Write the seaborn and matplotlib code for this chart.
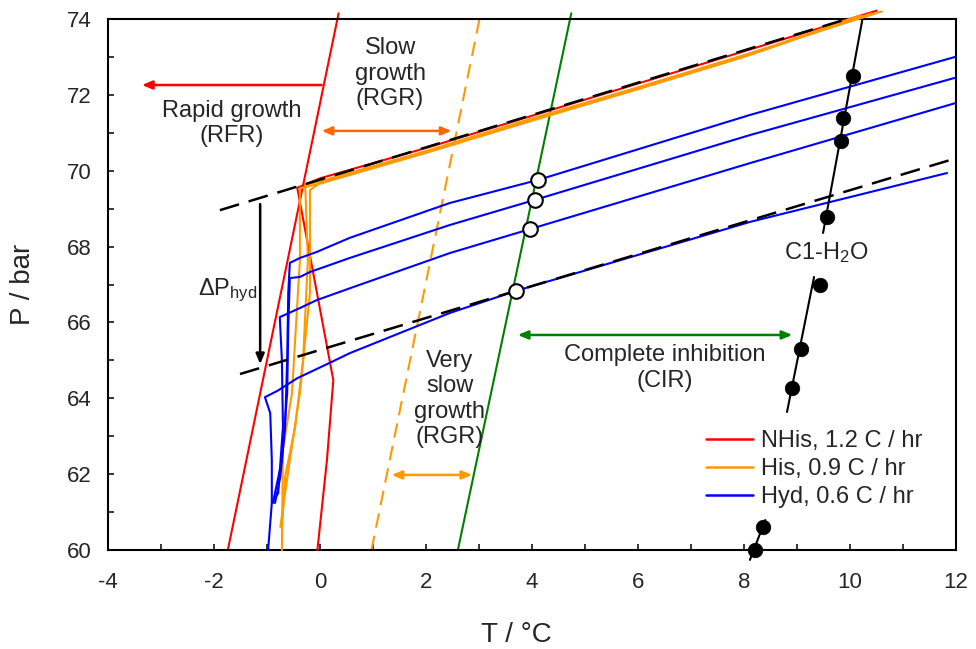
import matplotlib.pyplot as plt
import matplotlib.ticker as mticker
import pandas as pd
import seaborn as sns

# ---- traces (T in degC, P in bar) ----
nhis_T = [10.5, 8.0, 6.0, 4.0, 2.0, 0.0, -0.43, 0.25, 0.13, -0.05]
nhis_P = [74.22, 73.15, 72.3, 71.45, 70.6, 69.8, 69.55, 64.48, 62.37, 60.0]

his1_T = [10.6, 8.0, 6.0, 4.0, 2.0, 0.0, -0.28, -0.23, -0.32, -0.47, -0.66, -0.72]
his1_P = [74.2, 73.05, 72.2, 71.38, 70.52, 69.72, 69.62, 67.65, 65.01, 63.24, 61.93, 60.53]
his2_T = [10.4, 8.0, 6.0, 4.0, 2.0, 0.0, -0.38, -0.38, -0.47, -0.53, -0.70, -0.72]
his2_P = [74.15, 73.0, 72.15, 71.32, 70.47, 69.66, 69.54, 67.65, 65.54, 64.14, 62.64, 60.0]
his3_T = [10.2, 8.0, 6.0, 4.0, 2.0, 0.0, -0.19, -0.19, -0.38, -0.57, -0.75]
his3_P = [74.1, 73.02, 72.17, 71.34, 70.5, 69.68, 69.49, 66.78, 64.14, 62.37, 60.61]

hyd1_T = [11.98, 8.11, 4.12, 2.45, 0.56, -0.06, -0.38, -0.57, -0.6, -0.62, -0.66, -0.75, -0.85]
hyd1_P = [73.0, 71.47, 69.76, 69.15, 68.23, 67.86, 67.7, 67.57, 66.78, 65.01, 63.24, 61.93, 61.24]
hyd2_T = [11.98, 8.11, 4.05, 2.45, 0.56, -0.19, -0.38, -0.57, -0.6, -0.62, -0.72, -0.89]
hyd2_P = [72.45, 70.94, 69.23, 68.57, 67.7, 67.33, 67.2, 67.17, 65.88, 64.14, 62.37, 61.24]
hyd3_T = [11.98, 8.11, 3.96, 2.45, 0.56, -0.06, -0.38, -0.76, -0.72, -0.7, -0.79, -0.91]
hyd3_P = [71.78, 70.2, 68.46, 67.83, 66.9, 66.59, 66.38, 66.14, 65.01, 63.24, 61.5, 61.24]
hyd4_T = [11.83, 8.11, 3.69, 2.45, 0.56, 0.25, -0.43, -0.8, -1.04, -0.94, -0.91, -0.91, -0.98]
hyd4_P = [69.94, 68.65, 66.83, 66.25, 65.19, 64.98, 64.53, 64.2, 64.03, 63.61, 62.37, 61.24, 60.0]

series_names = ["NHis, 1.2 C / hr", "His, 0.9 C / hr", "Hyd, 0.6 C / hr"]
series_colors = ["#FF0000", "#FF9900", "#0000FF"]

# boundary lines (T at P = 60 and at top)
red_bound_T = [-1.74, 0.35]
red_bound_P = [60.0, 74.15]
orange_bound_T = [0.97, 3.03]
orange_bound_P = [60.0, 74.15]
green_bound_T = [2.6, 4.74]
green_bound_P = [60.0, 74.15]

# black dashed isochores
upper_iso_T = [-1.89, 9.87]
upper_iso_P = [68.96, 73.97]
lower_iso_T = [-1.51, 11.93]
lower_iso_P = [64.64, 70.3]

# onset points on the green boundary
onset_T = [4.12, 4.05, 3.96, 3.69]
onset_P = [69.76, 69.23, 68.46, 66.83]

# C1-H2O equilibrium points and curve pieces (gaps for label / legend)
c1_T = [8.21, 8.36, 8.91, 9.08, 9.43, 9.57, 9.83, 9.87, 10.06]
c1_P = [60.0, 60.61, 64.27, 65.3, 66.99, 68.78, 70.78, 71.39, 72.5]
c1_seg_T = [[8.11, 8.4], [8.81, 9.32], [9.49, 10.23]]
c1_seg_P = [[59.74, 60.79], [63.64, 67.2], [68.36, 73.97]]

# ---- build long table for seaborn ----
runs = [
    (series_names[0], "n1", nhis_T, nhis_P),
    (series_names[1], "h1", his1_T, his1_P),
    (series_names[1], "h2", his2_T, his2_P),
    (series_names[1], "h3", his3_T, his3_P),
    (series_names[2], "y1", hyd1_T, hyd1_P),
    (series_names[2], "y2", hyd2_T, hyd2_P),
    (series_names[2], "y3", hyd3_T, hyd3_P),
    (series_names[2], "y4", hyd4_T, hyd4_P),
]
rows = []
for name, run, ts, ps in runs:
    for i, (t, p) in enumerate(zip(ts, ps)):
        rows.append({"series": name, "run": run, "step": i, "T": t, "P": p})
df = pd.DataFrame(rows)

sns.set_style("white")
plt.rcParams["font.family"] = ["Liberation Sans", "DejaVu Sans"]
plt.rcParams["mathtext.fontset"] = "custom"
plt.rcParams["mathtext.rm"] = "Liberation Sans"
plt.rcParams["mathtext.it"] = "Liberation Sans:italic"

fig = plt.figure(figsize=(9.76, 6.49), dpi=100)
ax = fig.add_axes([0.1107, 0.1525, 0.8689, 0.8182])

# guide lines
ax.plot(red_bound_T, red_bound_P, color="#FF0000", lw=1.5, clip_on=False, zorder=2)
ax.plot(orange_bound_T, orange_bound_P, color="#FF9900", lw=1.5, dashes=(7, 4), clip_on=False, zorder=2)
ax.plot(green_bound_T, green_bound_P, color="#008000", lw=1.5, clip_on=False, zorder=2)

sns.lineplot(data=df, x="T", y="P", hue="series", units="run", estimator=None, sort=False,
             hue_order=series_names, palette=series_colors, lw=1.5, ax=ax, zorder=3, clip_on=False)

ax.plot(upper_iso_T, upper_iso_P, color="black", lw=1.8, dashes=(8, 4), zorder=4)
ax.plot(lower_iso_T, lower_iso_P, color="black", lw=1.8, dashes=(8, 4), zorder=4)

for st, sp in zip(c1_seg_T, c1_seg_P):
    ax.plot(st, sp, color="black", lw=1.5, zorder=4, clip_on=False)
sns.scatterplot(x=c1_T, y=c1_P, color="black", s=110, edgecolor="black", linewidth=0.5,
                ax=ax, zorder=5, clip_on=False, legend=False)
sns.scatterplot(x=onset_T, y=onset_P, facecolor="white", edgecolor="black", s=110, linewidth=1.5,
                ax=ax, zorder=5, legend=False)

# arrows
def arrow(x0, y0, x1, y1, color, style):
    ax.annotate("", xy=(x1, y1), xytext=(x0, y0),
                arrowprops=dict(arrowstyle=style, color=color, lw=1.8, shrinkA=0, shrinkB=0),
                zorder=6)

arrow(0.03, 72.26, -3.36, 72.26, "#FF0000", "-|>,head_length=0.6,head_width=0.25")
arrow(0.03, 71.05, 2.48, 71.05, "#FF6600", "<|-|>,head_length=0.6,head_width=0.25")
arrow(1.35, 61.98, 2.87, 61.98, "#FF9900", "<|-|>,head_length=0.6,head_width=0.25")
arrow(3.73, 65.67, 8.91, 65.67, "#008000", "<|-|>,head_length=0.6,head_width=0.25")
arrow(-1.13, 69.12, -1.13, 64.9, "black", "-|>,head_length=0.6,head_width=0.25")

# texts
tkw = dict(ha="center", va="center", fontsize=17, linespacing=1.2, zorder=7)
ax.text(-1.66, 71.25, "Rapid growth\n(RFR)", **tkw)
ax.text(1.32, 72.56, "Slow\ngrowth\n(RGR)", **tkw)
ax.text(2.45, 63.98, "Very\nslow\ngrowth\n(RGR)", **tkw)
ax.text(6.5, 64.8, "Complete inhibition\n(CIR)", **tkw)
ax.text(9.55, 67.83, r"C1-H$_2$O", **tkw)
ax.text(-1.74, 66.86, r"$\Delta\mathrm{P}_{\mathrm{hyd}}$", **tkw)

# axes
ax.set_xlim(-4, 12)
ax.set_ylim(60, 74)
ax.xaxis.set_major_locator(mticker.MultipleLocator(2))
ax.xaxis.set_minor_locator(mticker.MultipleLocator(1))
ax.yaxis.set_major_locator(mticker.MultipleLocator(2))
ax.yaxis.set_minor_locator(mticker.MultipleLocator(1))
ax.xaxis.set_major_formatter(mticker.FuncFormatter(lambda v, p: f"{v:.0f}"))
ax.tick_params(which="both", direction="in", length=4, width=1.1, color="black",
               left=True, bottom=True, top=False, right=False)
ax.tick_params(axis="x", which="major", labelsize=16, pad=16)
ax.tick_params(axis="y", which="major", labelsize=16, pad=12)
for s in ax.spines.values():
    s.set_color("black")
    s.set_linewidth(1.5)

ax.set_xlabel("T / °C", fontsize=20)
ax.set_ylabel("P / bar", fontsize=20)
ax.xaxis.set_label_coords(0.4816, -0.135)
ax.yaxis.set_label_coords(-0.085, 0.5005)

sns.move_legend(ax, "center left", bbox_to_anchor=(0.705, 0.1525), frameon=False, title=None,
                fontsize=17, handlelength=2.0, handletextpad=0.35, labelspacing=0.25,
                borderpad=0, borderaxespad=0)
for h in ax.get_legend().legend_handles:
    h.set_linewidth(1.8)

fig.savefig("out.png", dpi=100)
